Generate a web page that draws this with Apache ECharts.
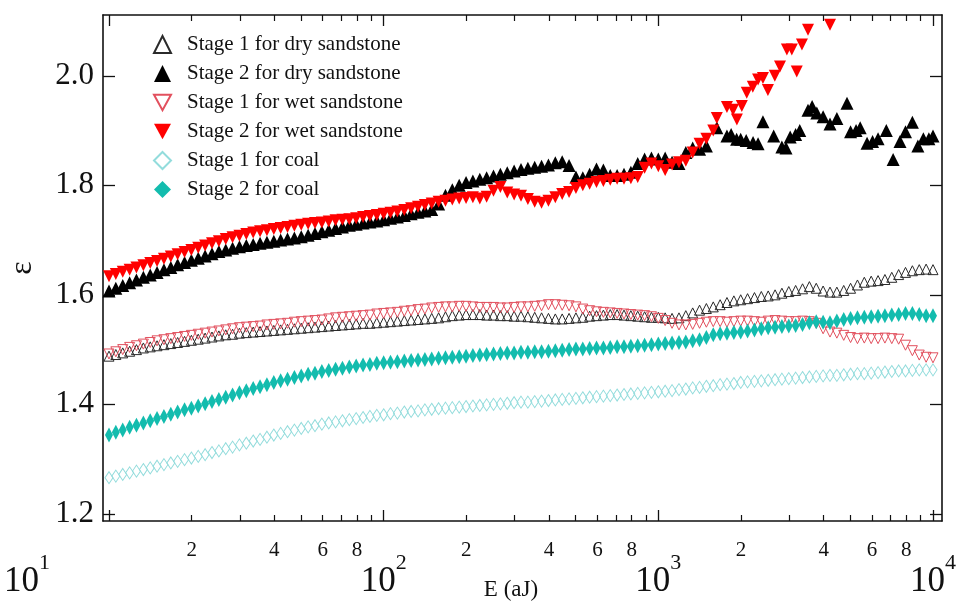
<!DOCTYPE html>
<html><head><meta charset="utf-8">
<script src="https://cdn.jsdelivr.net/npm/echarts@6/dist/echarts.min.js"></script>
<style>html,body{margin:0;padding:0;background:#fff}#c{width:958px;height:607px}</style>
</head><body><div id="c"></div>
<script>
// ---------- data ----------
const seriesNames = ['Stage 1 for dry sandstone','Stage 2 for dry sandstone','Stage 1 for wet sandstone','Stage 2 for wet sandstone','Stage 1 for coal','Stage 2 for coal'];

const E = [10,10.59,11.22,11.89,12.59,13.34,14.13,14.96,15.85,16.79,17.78,18.84,19.95,21.13,22.39,23.71,25.12,26.61,28.18,29.85,31.62,33.5,35.48,37.58,39.81,42.17,44.67,47.32,50.12,53.09,56.23,59.57,63.1,66.83,70.79,74.99,79.43,84.14,89.13,94.41,
100,105.9,112.2,118.9,125.9,133.4,141.3,149.6,158.5,167.9,177.8,188.4,199.5,211.3,223.9,237.1,251.2,266.1,281.8,298.5,316.2,335,354.8,375.8,398.1,421.7,446.7,473.2,501.2,530.9,562.3,595.7,631,668.3,707.9,749.9,794.3,841.4,891.3,944.1,
1000,1059,1122,1189,1259,1334,1413,1496,1585,1679,1778,1884,1995,2113,2239,2371,2512,2661,2818,2985,3162,3350,3548,3758,3981,4217,4467,4732,5012,5309,5623,5957,6310,6683,7079,7499,7943,8414,8913,9441,
10000];

const epsDry1 = [1.488,1.491,1.494,1.497,1.500,1.503,1.505,1.507,1.509,1.511,
1.513,1.515,1.517,1.519,1.521,1.523,1.525,1.527,1.528,1.530,
1.531,1.532,1.533,1.534,1.535,1.536,1.537,1.538,1.539,1.540,
1.541,1.542,1.543,1.544,1.545,1.546,1.547,1.548,1.548,1.549,
1.550,1.551,1.552,1.553,1.554,1.555,1.556,1.557,1.558,1.560,
1.562,1.563,1.564,1.564,1.564,1.563,1.563,1.562,1.562,1.561,
1.561,1.560,1.559,1.558,1.557,1.556,1.556,1.557,1.558,1.559,
1.561,1.562,1.563,1.564,1.564,1.563,1.562,1.561,1.560,1.559,
1.559,1.558,1.557,1.558,1.562,1.567,1.572,1.575,1.578,1.582,
1.586,1.589,1.591,1.593,1.595,1.597,1.598,1.600,1.603,1.606,
1.608,1.611,1.615,1.612,1.607,1.605,1.605,1.608,1.612,1.618,
1.623,1.625,1.626,1.628,1.632,1.637,1.641,1.644,1.646,1.647,
1.646];

const epsDry2 = [1.607,1.612,1.617,1.622,1.627,1.632,1.636,1.641,1.646,1.650,
1.655,1.659,1.663,1.667,1.671,1.675,1.679,1.682,1.685,1.688,
1.690,1.692,1.694,1.696,1.698,1.700,1.702,1.704,1.706,1.709,
1.712,1.715,1.718,1.721,1.724,1.727,1.729,1.731,1.733,1.735,
1.737,1.740,1.742,1.745,1.748,1.751,1.753,1.756,1.766,1.782,
1.792,1.800,1.805,1.808,1.811,1.814,1.817,1.820,1.823,1.826,
1.829,1.831,1.833,1.835,1.837,1.841,1.843,1.836,1.815,1.814,
1.820,1.830,1.828,1.818,1.818,1.820,1.824,1.840,1.848,1.850,
1.848,1.850,1.842,1.840,1.860,1.868,1.866,1.872];
const dry2TailE = [1633,1778,1841,1928,1995,2089,2213,2307,2404,2630,2818,2917,3020,3162,3273,3508,3631,3776,3981,4217,4467,4864,5012,5248,5433,5754,6026,6310,6761,7161,7586,7943,8414,8810,9226,9661,10000];
const dry2TailEps = [1.905,1.890,1.893,1.884,1.884,1.882,1.878,1.876,1.916,1.890,1.870,1.868,1.888,1.893,1.900,1.937,1.944,1.932,1.925,1.912,1.922,1.950,1.898,1.900,1.905,1.877,1.880,1.885,1.900,1.847,1.880,1.898,1.915,1.872,1.885,1.885,1.890];

const epsWet1 = [1.492,1.496,1.500,1.504,1.507,1.510,1.513,1.516,1.518,1.520,
1.522,1.524,1.526,1.528,1.530,1.532,1.534,1.536,1.538,1.540,
1.541,1.542,1.543,1.545,1.546,1.547,1.548,1.550,1.551,1.552,
1.553,1.554,1.556,1.558,1.559,1.560,1.561,1.562,1.563,1.565,
1.566,1.567,1.568,1.570,1.571,1.573,1.574,1.576,1.577,1.578,
1.578,1.579,1.579,1.578,1.577,1.577,1.577,1.576,1.576,1.577,
1.578,1.578,1.579,1.580,1.582,1.582,1.581,1.580,1.578,1.574,
1.571,1.569,1.568,1.567,1.566,1.565,1.564,1.563,1.562,1.560,
1.557,1.553,1.548,1.545,1.545,1.546,1.548,1.550,1.551,1.551,
1.550,1.551,1.552,1.552,1.551,1.550,1.552,1.553,1.552,1.551,
1.551,1.552,1.551,1.548,1.538,1.532,1.530,1.526,1.522,1.520,
1.521,1.520,1.520,1.521,1.520,1.519,1.508,1.498,1.490,1.486,
1.485];

const epsWet2 = [1.634,1.638,1.642,1.646,1.650,1.654,1.658,1.662,1.666,1.670,
1.674,1.678,1.682,1.686,1.690,1.694,1.698,1.702,1.705,1.708,
1.711,1.714,1.716,1.718,1.720,1.722,1.724,1.726,1.728,1.730,
1.731,1.732,1.734,1.736,1.737,1.738,1.740,1.742,1.744,1.746,
1.748,1.750,1.752,1.755,1.758,1.761,1.764,1.767,1.770,1.772,
1.774,1.776,1.777,1.778,1.776,1.779,1.790,1.797,1.787,1.783,
1.781,1.775,1.770,1.768,1.772,1.778,1.784,1.788,1.795,1.800,
1.803,1.806,1.808,1.810,1.812,1.812,1.813,1.815,1.832,1.840,
1.835,1.828,1.838,1.842,1.845,1.860,1.876,1.885,1.900];
const wet2TailE = [1633,1778,1871,1932,2014,2099,2208,2307,2404,2506,2655,2773,2938,3062,3192,3334,3508,4217];
const wet2TailEps = [1.923,1.943,1.938,1.920,1.945,1.969,1.980,1.993,1.996,1.974,2.000,2.017,2.048,2.048,2.008,2.057,2.084,2.093];

const epsCoal1 = [1.266,1.269,1.272,1.275,1.278,1.281,1.284,1.287,1.290,1.293,
1.296,1.299,1.302,1.305,1.308,1.312,1.315,1.319,1.322,1.326,
1.329,1.333,1.336,1.340,1.344,1.347,1.350,1.353,1.356,1.359,
1.361,1.364,1.366,1.368,1.370,1.372,1.374,1.376,1.378,1.380,
1.381,1.383,1.384,1.386,1.387,1.388,1.390,1.391,1.392,1.393,
1.394,1.395,1.396,1.397,1.398,1.399,1.400,1.401,1.402,1.403,
1.404,1.404,1.405,1.406,1.407,1.408,1.409,1.410,1.411,1.412,
1.413,1.414,1.415,1.416,1.417,1.418,1.419,1.420,1.421,1.422,
1.423,1.424,1.425,1.427,1.428,1.430,1.431,1.433,1.434,1.436,
1.437,1.438,1.440,1.441,1.442,1.443,1.444,1.445,1.446,1.447,
1.448,1.449,1.450,1.451,1.452,1.453,1.453,1.454,1.455,1.456,
1.456,1.457,1.458,1.459,1.460,1.461,1.461,1.462,1.463,1.463,
1.463];

const epsCoal2 = [1.344,1.349,1.353,1.358,1.362,1.366,1.370,1.374,1.378,1.382,
1.386,1.390,1.393,1.397,1.401,1.405,1.409,1.413,1.417,1.421,
1.425,1.429,1.432,1.436,1.440,1.443,1.446,1.449,1.452,1.455,
1.457,1.460,1.462,1.464,1.466,1.468,1.470,1.472,1.473,1.475,
1.476,1.477,1.478,1.479,1.480,1.481,1.482,1.483,1.484,1.485,
1.486,1.487,1.488,1.489,1.490,1.491,1.492,1.493,1.494,1.494,
1.495,1.495,1.496,1.496,1.497,1.498,1.499,1.500,1.501,1.501,
1.502,1.503,1.503,1.504,1.505,1.505,1.506,1.507,1.508,1.509,
1.510,1.511,1.512,1.513,1.514,1.516,1.518,1.522,1.527,1.529,
1.530,1.531,1.532,1.534,1.536,1.538,1.540,1.541,1.542,1.543,
1.544,1.546,1.549,1.551,1.550,1.549,1.552,1.555,1.557,1.558,
1.559,1.560,1.561,1.562,1.563,1.564,1.566,1.566,1.564,1.562,
1.562];

// axes
const xRangeE = [9.51, 10785];
const yRange = [1.187, 2.111];
const majorE = [10, 100, 1000, 10000];
const minorE = [20,30,40,50,60,70,80,90,200,300,400,500,600,700,800,900,2000,3000,4000,5000,6000,7000,8000,9000];
const minorLabelE = [20,40,60,80,200,400,600,800,2000,4000,6000,8000];
const yTicks = [1.2,1.4,1.6,1.8,2.0];

// ---------- chart ----------
const lg = v => Math.log10(v);
const pairs = (xs, ys) => ys.map((y, i) => [lg(xs[i]), y]);
const FONT = 'Liberation Serif';
const xMin = lg(xRangeE[0]), xMax = lg(xRangeE[1]);
const DOWN = 'path://M0,0 L10,0 L5,9 Z';

const baseX = {type:'value', min:xMin, max:xMax, splitLine:{show:false}};
const lineStyle = {color:'#111', width:1.6};

const xAxes = [
  Object.assign({}, baseX, {
    position:'bottom',
    axisLine:{show:true, lineStyle},
    axisTick:{show:true, inside:true, length:11, lineStyle:{color:'#111', width:1.3}, customValues: majorE.map(lg)},
    axisLabel:{show:true, margin:31, customValues: majorE.map(lg),
      formatter: v => { const n = Math.round(v); return n === 1 ? '{b|10}{s1|1}' : '{b|10}{s|' + n + '}'; },
      rich:{
        b:{fontFamily:FONT, fontSize:35, color:'#111', lineHeight:60},
        s:{fontFamily:FONT, fontSize:22, color:'#111', lineHeight:22, verticalAlign:'top'},
        s1:{fontFamily:FONT, fontSize:22, color:'#111', lineHeight:22, verticalAlign:'top', padding:[0,164,0,0]}
      }},
    name:'E (aJ)', nameLocation:'middle', nameGap:57, nameMoveOverlap:false,
    nameTextStyle:{fontFamily:FONT, fontSize:23, color:'#111', padding:[0,23,0,0]}
  }),
  Object.assign({}, baseX, {
    position:'bottom',
    axisLine:{show:false},
    axisTick:{show:true, inside:true, length:6, lineStyle:{color:'#111', width:1.2}, customValues: minorE.map(lg)},
    axisLabel:{show:true, margin:19, customValues: minorLabelE.map(lg), fontFamily:FONT, fontSize:21, color:'#111',
      formatter: v => String(Math.round(Math.pow(10, v - Math.floor(v + 1e-9))))}
  }),
  Object.assign({}, baseX, {
    position:'top',
    axisLine:{show:true, lineStyle},
    axisTick:{show:true, inside:true, length:11, lineStyle:{color:'#111', width:1.3}, customValues: majorE.map(lg)},
    axisLabel:{show:false}
  }),
  Object.assign({}, baseX, {
    position:'top',
    axisLine:{show:false},
    axisTick:{show:true, inside:true, length:6, lineStyle:{color:'#111', width:1.2}, customValues: minorE.map(lg)},
    axisLabel:{show:false}
  })
];

const yAxes = [
  {type:'value', position:'left', min:yRange[0], max:yRange[1], splitLine:{show:false},
   axisLine:{show:true, lineStyle},
   axisTick:{show:true, inside:true, length:12, lineStyle:{color:'#111', width:1.3}, customValues:yTicks},
   axisLabel:{show:true, margin:9, customValues:yTicks, fontFamily:FONT, fontSize:31, color:'#111', formatter: v => v.toFixed(1)},
   name:'ε', nameLocation:'middle', nameGap:64, nameMoveOverlap:false, nameTextStyle:{fontFamily:FONT, fontSize:32, color:'#111'}},
  {type:'value', position:'right', min:yRange[0], max:yRange[1], splitLine:{show:false},
   axisLine:{show:true, lineStyle},
   axisTick:{show:true, inside:true, length:12, lineStyle:{color:'#111', width:1.3}, customValues:yTicks},
   axisLabel:{show:false}}
];

const hollow = c => ({color:'rgba(255,255,255,0)', borderColor:c, borderWidth:1, opacity:1});

const series = [
  {name:seriesNames[0], type:'scatter', symbol:'triangle', symbolSize:10, itemStyle:hollow('#2a2a2a'), data:pairs(E, epsDry1)},
  {name:seriesNames[2], type:'scatter', symbol:'triangle', symbolRotate:180, symbolSize:10, itemStyle:hollow('#e2505e'), data:pairs(E, epsWet1)},
  {name:seriesNames[4], type:'scatter', symbol:'diamond', symbolSize:[8,12], itemStyle:hollow('#93dcdc'), data:pairs(E, epsCoal1)},
  {name:seriesNames[5], type:'scatter', symbol:'diamond', symbolSize:[8,15], itemStyle:{color:'#13bcae', opacity:1}, data:pairs(E, epsCoal2)},
  {name:seriesNames[1], type:'scatter', symbol:'triangle', symbolSize:13, itemStyle:{color:'#000', opacity:1},
   data:pairs(E, epsDry2).concat(pairs(dry2TailE, dry2TailEps))},
  {name:seriesNames[3], type:'scatter', symbol:'triangle', symbolRotate:180, symbolSize:12, itemStyle:{color:'#ff0000', opacity:1},
   data:pairs(E, epsWet2).concat(pairs(wet2TailE, wet2TailEps))}
];

const legendIcons = ['triangle','triangle',DOWN,DOWN,'diamond','diamond'];

const chart = echarts.init(document.getElementById('c'), null, {renderer:'canvas'});
chart.setOption({
  animation:false,
  backgroundColor:'#fff',
  textStyle:{fontFamily:FONT},
  grid:{left:103, right:16, top:15, bottom:86, containLabel:false, outerBoundsMode:'none'},
  legend:{data:seriesNames.map((n, i) => ({name:n, icon:legendIcons[i]})),
    orient:'vertical', left:148, top:29, itemGap:8, itemWidth:17, itemHeight:17,
    textStyle:{fontFamily:FONT, fontSize:21, color:'#111', padding:[0,0,0,11]}},
  xAxis:xAxes,
  yAxis:yAxes,
  series:series
});
</script>
</body></html>
